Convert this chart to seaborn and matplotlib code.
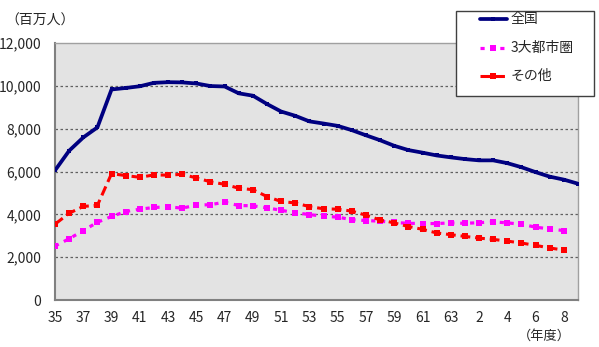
import matplotlib
matplotlib.use("Agg")
import matplotlib.pyplot as plt
from matplotlib.lines import Line2D
from matplotlib.patches import Rectangle
import seaborn as sns
import pandas as pd
import numpy as np

sns.set_style("white")
plt.rcParams["font.family"] = ["Noto Sans CJK JP", "DejaVu Sans"]

# Fiscal years: Showa 35-63, then Heisei 1-9
years = [str(y) for y in range(35, 64)] + ["H" + str(y) for y in range(1, 10)]
tick_labels = [str(y) for y in range(35, 64, 2)] + ["2", "4", "6", "8"]

# 全国 (million persons)
national = [6050, 6970, 7590, 8060, 9830, 9900, 9980, 10140, 10170, 10160,
            10110, 9990, 9970, 9650, 9540, 9150, 8800, 8600, 8340, 8240,
            8130, 7930, 7690, 7460, 7200, 7000, 6880, 6750, 6660, 6580,
            6520, 6520, 6390, 6200, 5970, 5760, 5620, 5430]
# 3大都市圏
metro = [2520, 2860, 3240, 3630, 3900, 4130, 4240, 4320, 4350, 4290,
         4430, 4450, 4570, 4410, 4400, 4300, 4190, 4070, 3990, 3910,
         3870, 3750, 3710, 3680, 3620, 3580, 3570, 3570, 3600, 3580,
         3610, 3650, 3600, 3540, 3400, 3320, 3240]
# その他
others = [3540, 4050, 4370, 4420, 5900, 5810, 5730, 5840, 5830, 5870,
          5700, 5520, 5400, 5220, 5150, 4830, 4600, 4530, 4360, 4260,
          4240, 4150, 3960, 3740, 3600, 3430, 3300, 3130, 3050, 2970,
          2890, 2830, 2750, 2660, 2550, 2430, 2330]

labels = ["全国", "3大都市圏", "その他"]
colors = ["#000080", "#FF00FF", "#FF0000"]
styles = [
    dict(lw=2.7, ls="-", marker="s", markersize=3.5),
    dict(lw=2.3, ls=(0, (1.3, 1.8)), marker="s", markersize=4.5),
    dict(lw=2.2, ls=(0, (3.2, 1.6)), marker="s", markersize=4.5),
]

W, H = 599, 347
fig = plt.figure(figsize=(W / 100, H / 100), dpi=100)
ax = fig.add_axes([55 / W, 47 / H, 523 / W, 257 / H])
ax.set_facecolor("#E3E3E3")

for vals, c, st in zip([national, metro, others], colors, styles):
    df = pd.DataFrame({"idx": np.arange(len(vals)), "v": vals})
    sns.lineplot(data=df, x="idx", y="v", ax=ax, color=c, lw=st["lw"],
                 marker=st["marker"], markersize=st["markersize"],
                 markeredgewidth=0, zorder=3)
    ax.lines[-1].set_linestyle(st["ls"])

ax.set_xlim(0, len(national) - 1)
ax.set_ylim(0, 12000)
ax.set_yticks(range(0, 12001, 2000))
ax.set_yticklabels([f"{v:,}" for v in range(0, 12001, 2000)], fontsize=10)
ax.set_xticks(range(0, 37, 2))
ax.set_xticklabels(tick_labels, fontsize=10)
ax.set_xticks(range(0, 38), minor=True)
ax.tick_params(axis="x", which="both", direction="in", length=4, width=0.8,
               color="#808080", pad=8)
ax.tick_params(axis="y", length=0, pad=10)
ax.set_xlabel("")
ax.set_ylabel("")

for y in range(2000, 12000, 2000):
    ax.axhline(y, color="#606060", lw=0.9, ls=(0, (2, 2)), zorder=1)

for side in ["top", "right"]:
    ax.spines[side].set_color("#A0A0A0")
    ax.spines[side].set_linewidth(1.0)
for side in ["left", "bottom"]:
    ax.spines[side].set_color("#808080")
    ax.spines[side].set_linewidth(1.5)

fig.text(5 / W, 1 - 21 / H, "（百万人）", fontsize=10, va="center", ha="left")
fig.text(571 / W, 1 - 336 / H, "（年度）", fontsize=9.5, va="center", ha="right")

# Legend box drawn in figure pixel coordinates
def fx(px):
    return px / W

def fy(py):
    return 1 - py / H

fig.patches.append(Rectangle((fx(456), fy(96)), (594 - 456) / W, (96 - 11) / H,
                             transform=fig.transFigure, facecolor="white",
                             edgecolor="#404040", lw=1.0, zorder=5))
for i, (lab, c, st) in enumerate(zip(labels, colors, styles)):
    yy = fy(19 + 28.5 * i)
    fig.lines.append(Line2D([fx(480), fx(507)], [yy, yy], transform=fig.transFigure,
                            color=c, lw=st["lw"], ls=st["ls"], zorder=6))
    fig.lines.append(Line2D([fx(493)], [yy], transform=fig.transFigure,
                            color=c, marker="s", markersize=st["markersize"],
                            markeredgewidth=0, zorder=6))
    fig.text(fx(511), yy, lab, fontsize=10, va="center", ha="left", zorder=7)

fig.savefig("out.png", dpi=100, facecolor="white")
